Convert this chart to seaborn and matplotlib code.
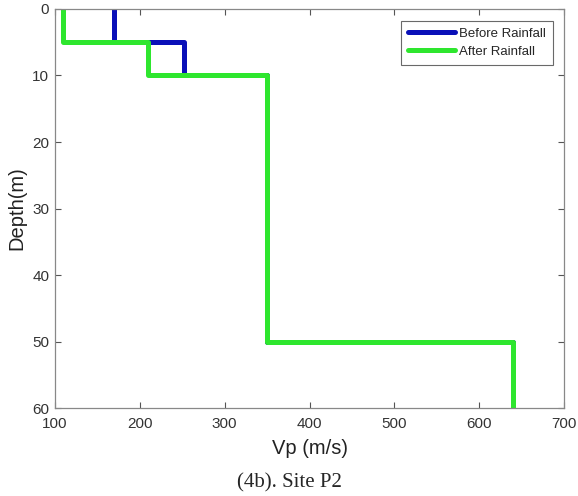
import numpy as np
import pandas as pd
import matplotlib
matplotlib.use("Agg")
import matplotlib.pyplot as plt
import seaborn as sns

# layer boundaries (m) and P-wave velocities (m/s) per layer
layer_tops = [0, 5, 10, 50]
layer_bottoms = [5, 10, 50, 60]
vp_before = [170, 252, 350, 640]
vp_after = [110, 210, 350, 640]
series_names = ["Before Rainfall", "After Rainfall"]
colors = {"Before Rainfall": "#0a10b8", "After Rainfall": "#2ee62e"}


def step_profile(tops, bottoms, vels, name):
    # each layer gives a vertical segment; consecutive layers joined horizontally
    depth = []
    vp = []
    for t, b, v in zip(tops, bottoms, vels):
        depth += [t, b]
        vp += [v, v]
    return pd.DataFrame({"Vp": vp, "Depth": depth, "case": name})


df = pd.concat([
    step_profile(layer_tops, layer_bottoms, vp_before, series_names[0]),
    step_profile(layer_tops, layer_bottoms, vp_after, series_names[1]),
], ignore_index=True)

sns.set_style("ticks")
plt.rcParams["font.family"] = ["Liberation Sans", "DejaVu Sans"]

fig = plt.figure(figsize=(5.78, 4.96), dpi=100)
ax = fig.add_axes([0.095, 0.177, 0.881, 0.805])

sns.lineplot(data=df, x="Vp", y="Depth", hue="case", palette=colors,
             sort=False, estimator=None, linewidth=3.6, ax=ax,
             hue_order=series_names)

ax.set_xlim(100, 700)
ax.set_ylim(60, 0)
ax.set_xticks(range(100, 701, 100))
ax.set_yticks(range(0, 61, 10))
ax.set_xlabel("Vp (m/s)", fontsize=14.5, color="#222222", labelpad=6)
ax.set_ylabel("Depth(m)", fontsize=14.5, color="#222222", labelpad=4)
ax.tick_params(direction="in", length=4, width=0.8, color="#555555",
               labelsize=11, labelcolor="#333333", top=True, right=True)
ax.tick_params(axis="x", pad=6)
ax.tick_params(axis="y", pad=4)
for s in ax.spines.values():
    s.set_color("#888888")
    s.set_linewidth(0.9)

leg = ax.legend(loc="upper right", fontsize=9.5, frameon=True, fancybox=False,
                handlelength=3.6, borderpad=0.5, labelspacing=0.45,
                handletextpad=0.3, borderaxespad=0,
                bbox_to_anchor=(0.978, 0.97))
leg.get_frame().set_edgecolor("#444444")
leg.get_frame().set_linewidth(0.8)
for line in leg.get_lines():
    line.set_linewidth(3.6)

fig.text(0.5, 0.026, "(4b). Site P2", ha="center", va="center",
         fontsize=15, family=["Liberation Serif", "DejaVu Serif"])

fig.savefig("out.png", dpi=100)
